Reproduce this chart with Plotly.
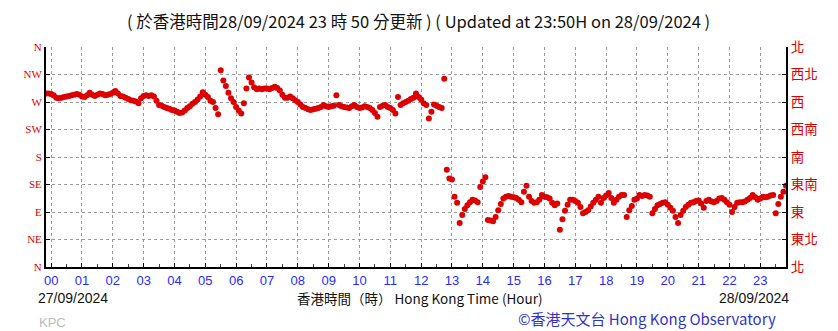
import plotly.graph_objects as go

# Wind direction (degrees) every 5 minutes, from 23:50 on 27/09 to 23:50 on 28/09
start_minute = -10
step_minutes = 5
prev_day = [284, 284]
h00 = [283, 281, 277, 276, 277, 278, 279, 280, 281, 282, 283, 282]
h01 = [279, 278, 281, 285, 282, 280, 282, 284, 283, 281, 282, 283]
h02 = [285, 288, 284, 280, 279, 277, 275, 273, 272, 271, 268, 276]
h03 = [280, 281, 280, 281, 279, 272, 265, 264, 262, 260, 259, 257]
h04 = [256, 254, 252, 253, 256, 260, 263, 267, 270, 274, 279, 286]
h05 = [282, 278, 272, 270, 260, 250, 322, 305, 296, 285, 276, 270]
h06 = [262, 256, 251, 268, 292, 310, 302, 294, 291, 292, 291, 292]
h07 = [292, 291, 293, 295, 293, 289, 282, 277, 277, 279, 276, 273]
h08 = [270, 266, 262, 260, 258, 257, 258, 259, 260, 262, 265, 263]
h09 = [262, 263, 264, 281, 265, 263, 262, 261, 260, 263, 265, 262]
h10 = [260, 261, 263, 262, 260, 257, 252, 246, 262, 264, 265, 262]
h11 = [260, 257, 251, 278, 265, 268, 270, 272, 275, 277, 284, 278]
h12 = [274, 268, 265, 243, 254, 266, 264, 262, 260, 308, 159, 145]
h13 = [143, 115, 105, 72, 85, 95, 101, 106, 110, 109, 106, 131]
h14 = [140, 147, 77, 76, 75, 82, 93, 103, 112, 115, 116, 115]
h15 = [114, 113, 110, 106, 123, 133, 115, 108, 105, 106, 110, 118]
h16 = [115, 114, 112, 105, 101, 104, 61, 78, 92, 102, 110, 110]
h17 = [108, 105, 98, 88, 90, 93, 99, 105, 110, 115, 105, 113]
h18 = [117, 121, 113, 105, 110, 115, 118, 118, 82, 93, 100, 110]
h19 = [112, 118, 116, 118, 117, 115, 88, 95, 101, 103, 105, 106]
h20 = [102, 97, 92, 82, 72, 85, 92, 98, 102, 105, 106, 108]
h21 = [109, 104, 97, 108, 110, 107, 106, 108, 112, 113, 110, 106]
h22 = [102, 90, 98, 105, 106, 106, 107, 110, 113, 118, 114, 110]
h23 = [112, 115, 114, 115, 117, 118, 88, 103, 115, 123, 133]

direction = (prev_day + h00 + h01 + h02 + h03 + h04 + h05 + h06 + h07 + h08 + h09
             + h10 + h11 + h12 + h13 + h14 + h15 + h16 + h17 + h18 + h19 + h20
             + h21 + h22 + h23)
hours = [(start_minute + i * step_minutes) / 60 for i in range(len(direction))]

hour_ticks = list(range(24))
hour_labels = [f"{h:02d}" for h in hour_ticks]
deg_ticks = [0, 45, 90, 135, 180, 225, 270, 315, 360]
en_labels = ["N", "NE", "E", "SE", "S", "SW", "W", "NW", "N"]
zh_labels = ["北", "東北", "東", "東南", "南", "西南", "西", "西北", "北"]

title_text = "( 於香港時間28/09/2024 23 時 50 分更新 ) ( Updated at 23:50H on 28/09/2024 )"
x_title = "香港時間（時） Hong Kong Time (Hour)"
date_left = "27/09/2024"
date_right = "28/09/2024"
credit = "©香港天文台 Hong Kong Observatory"
station = "KPC"

RED = "#dd0000"
GRID = "#9a9a9a"
CJK = "Noto Sans CJK TC, Noto Sans, sans-serif"

fig = go.Figure()
fig.add_trace(go.Scatter(
    x=hours, y=direction, mode="markers",
    marker=dict(color=RED, size=6, symbol="circle", line=dict(width=0)),
    showlegend=False, hoverinfo="skip"))
fig.add_trace(go.Scatter(x=[None], y=[None], yaxis="y2", showlegend=False))

x_range = [-10 / 60, 23 + 50 / 60]

fig.update_layout(
    width=838, height=331,
    margin=dict(l=46, r=52, t=47, b=64),
    paper_bgcolor="white", plot_bgcolor="white",
    xaxis=dict(
        range=x_range, tickvals=hour_ticks, ticktext=hour_labels,
        tickfont=dict(family="Liberation Sans, Arial", size=13, color="#2a2aff"),
        showgrid=True, gridcolor=GRID, griddash="dot", gridwidth=1,
        showline=True, linecolor="black", linewidth=2,
        ticks="inside", ticklen=4, tickcolor="black", tickwidth=1,
        minor=dict(dtick=0.5, tick0=0, ticks="inside", ticklen=3, tickcolor="#444", showgrid=False),
        zeroline=False, fixedrange=True),
    yaxis=dict(
        range=[0, 360], tickvals=deg_ticks, ticktext=en_labels,
        tickfont=dict(family="Liberation Serif, Times New Roman, serif", size=11, color=RED),
        showgrid=True, gridcolor=GRID, griddash="dot", gridwidth=1,
        showline=True, linecolor="black", linewidth=2,
        ticks="inside", ticklen=4, tickcolor="black",
        zeroline=False, fixedrange=True),
    yaxis2=dict(
        range=[0, 360], tickvals=deg_ticks, ticktext=zh_labels,
        overlaying="y", side="right",
        tickfont=dict(family=CJK, size=13.5, color=RED),
        showgrid=False, showline=True, linecolor="black", linewidth=2,
        ticks="inside", ticklen=4, tickcolor="black",
        zeroline=False, fixedrange=True),
)

def ypaper(py):
    return (267 - py) / 220

def xpaper(px):
    return (px - 46) / 740

annots = [
    dict(text=title_text, x=xpaper(418), y=ypaper(21), xanchor="center",
         font=dict(family=CJK, size=16.5, color="#111")),
    dict(text=date_left, x=xpaper(36), y=ypaper(298), xanchor="left",
         font=dict(family="Liberation Sans, Arial", size=14, color="#111")),
    dict(text=x_title, x=xpaper(420), y=ypaper(298), xanchor="center",
         font=dict(family=CJK, size=13.5, color="#111")),
    dict(text=date_right, x=xpaper(791), y=ypaper(298), xanchor="right",
         font=dict(family="Liberation Sans, Arial", size=14, color="#111")),
    dict(text=station, x=xpaper(37), y=ypaper(322), xanchor="left",
         font=dict(family="Liberation Sans, Arial", size=13, color="#bbbbbb")),
    dict(text=credit, x=xpaper(778), y=ypaper(318), xanchor="right",
         font=dict(family=CJK, size=15, color="#3333cc")),
]
for a in annots:
    a.update(xref="paper", yref="paper", yanchor="middle", showarrow=False)
fig.update_layout(annotations=annots)

fig.write_html("out.html")
